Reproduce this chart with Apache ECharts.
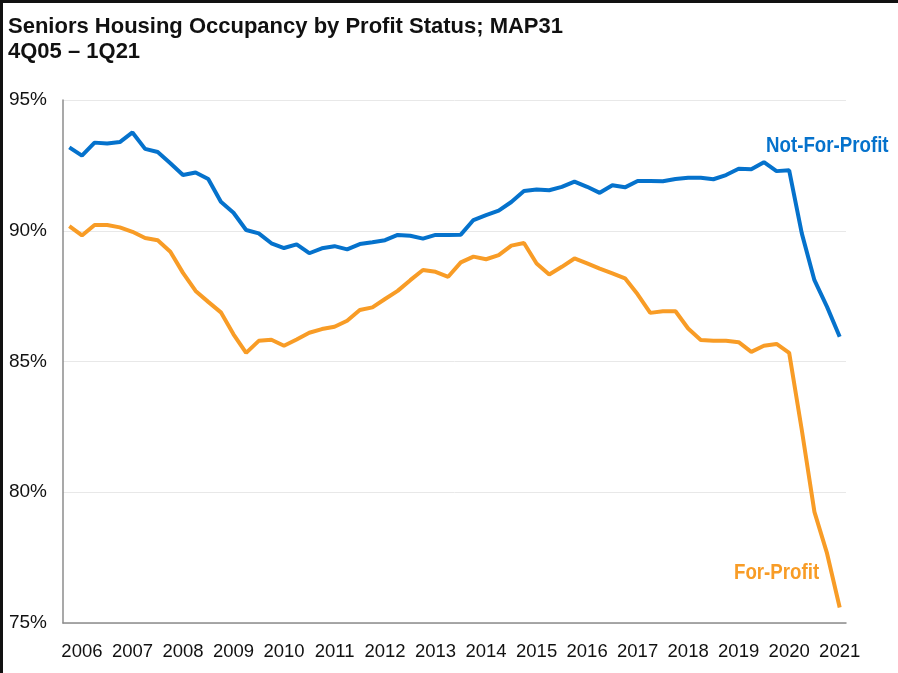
<!DOCTYPE html>
<html>
<head>
<meta charset="utf-8">
<script src="https://cdn.jsdelivr.net/npm/echarts@6/dist/echarts.min.js"></script>
<style>
    html, body { margin: 0; padding: 0; background: #fff; }
    #main { width: 898px; height: 673px; box-sizing: border-box; border-top: 3px solid #111; border-left: 3px solid #111; }
</style>
</head>
<body>
<div id="main"></div>
<script type="text/javascript">
    // quarters 4Q05 .. 1Q21
    var quarters = [
        '4Q05',
        '1Q06','2Q06','3Q06','4Q06','1Q07','2Q07','3Q07','4Q07',
        '1Q08','2Q08','3Q08','4Q08','1Q09','2Q09','3Q09','4Q09',
        '1Q10','2Q10','3Q10','4Q10','1Q11','2Q11','3Q11','4Q11',
        '1Q12','2Q12','3Q12','4Q12','1Q13','2Q13','3Q13','4Q13',
        '1Q14','2Q14','3Q14','4Q14','1Q15','2Q15','3Q15','4Q15',
        '1Q16','2Q16','3Q16','4Q16','1Q17','2Q17','3Q17','4Q17',
        '1Q18','2Q18','3Q18','4Q18','1Q19','2Q19','3Q19','4Q19',
        '1Q20','2Q20','3Q20','4Q20','1Q21'
    ];

    var notForProfit = [
        93.19,
        92.87, 93.37, 93.34, 93.39, 93.76, 93.13, 93.01, 92.58,
        92.13, 92.23, 91.98, 91.11, 90.69, 90.03, 89.90, 89.52,
        89.34, 89.48, 89.14, 89.33, 89.41, 89.29, 89.49, 89.56,
        89.64, 89.84, 89.81, 89.70, 89.84, 89.84, 89.85, 90.41,
        90.60, 90.77, 91.10, 91.52, 91.58, 91.55, 91.68, 91.88,
        91.68, 91.45, 91.74, 91.66, 91.90, 91.90, 91.89, 91.98,
        92.03, 92.03, 91.97, 92.13, 92.37, 92.35, 92.62, 92.28,
        92.31, 89.90, 88.11, 87.09, 85.95
    ];

    var forProfit = [
        90.18,
        89.82, 90.22, 90.22, 90.13, 89.96, 89.72, 89.64, 89.20,
        88.39, 87.70, 87.28, 86.88, 86.04, 85.33, 85.79, 85.83,
        85.60, 85.84, 86.10, 86.24, 86.33, 86.56, 86.97, 87.07,
        87.39, 87.70, 88.11, 88.50, 88.43, 88.24, 88.79, 89.01,
        88.91, 89.07, 89.43, 89.53, 88.75, 88.33, 88.62, 88.94,
        88.75, 88.55, 88.37, 88.18, 87.57, 86.86, 86.92, 86.92,
        86.26, 85.82, 85.79, 85.79, 85.74, 85.37, 85.60, 85.67,
        85.33, 82.38, 79.25, 77.66, 75.59
    ];

    var blue = '#0572cc';
    var orange = '#f89c26';
    var font = '"Liberation Sans", Arial, sans-serif';

    var myChart = echarts.init(document.getElementById('main'));
    myChart.setOption({
        animation: false,
        grid: { left: 60, right: 52, top: 97, bottom: 50 },
        title: {
            text: 'Seniors Housing Occupancy by Profit Status; MAP31\n4Q05 – 1Q21',
            left: 0, top: 6,
            textStyle: { fontFamily: font, fontWeight: 'bold', fontSize: 22, lineHeight: 25, color: '#111' }
        },
        xAxis: {
            type: 'category',
            data: quarters,
            boundaryGap: true,
            axisLine: { lineStyle: { color: '#8c8c8c', width: 1.5 } },
            axisTick: { show: false },
            axisLabel: {
                interval: function (idx) { return idx % 4 === 1; },
                formatter: function (v) { return '20' + v.slice(2); },
                fontFamily: font, fontSize: 18.5, color: '#111', margin: 19
            },
            splitLine: { show: false }
        },
        yAxis: {
            type: 'value',
            min: 75, max: 95, interval: 5,
            axisLine: { show: true, lineStyle: { color: '#8c8c8c', width: 1.5 } },
            axisTick: { show: false },
            axisLabel: { formatter: '{value}%', fontFamily: font, fontSize: 19, color: '#111', margin: 16 },
            splitLine: { lineStyle: { color: '#e8e8e8', width: 1 } }
        },
        series: [
            {
                name: 'Not-For-Profit', type: 'line', data: notForProfit,
                symbol: 'none', lineStyle: { color: blue, width: 4 }, itemStyle: { color: blue }
            },
            {
                name: 'For-Profit', type: 'line', data: forProfit,
                symbol: 'none', lineStyle: { color: orange, width: 4 }, itemStyle: { color: orange }
            }
        ],
        // series names, squeezed a bit like the narrow face in the original
        graphic: [
            { type: 'text', x: 763, y: 132, scaleX: 0.85,
              style: { text: 'Not-For-Profit', fill: blue, font: 'bold 22px ' + font, verticalAlign: 'top' } },
            { type: 'text', x: 731, y: 559, scaleX: 0.85,
              style: { text: 'For-Profit', fill: orange, font: 'bold 22px ' + font, verticalAlign: 'top' } }
        ]
    });
</script>
</body>
</html>
